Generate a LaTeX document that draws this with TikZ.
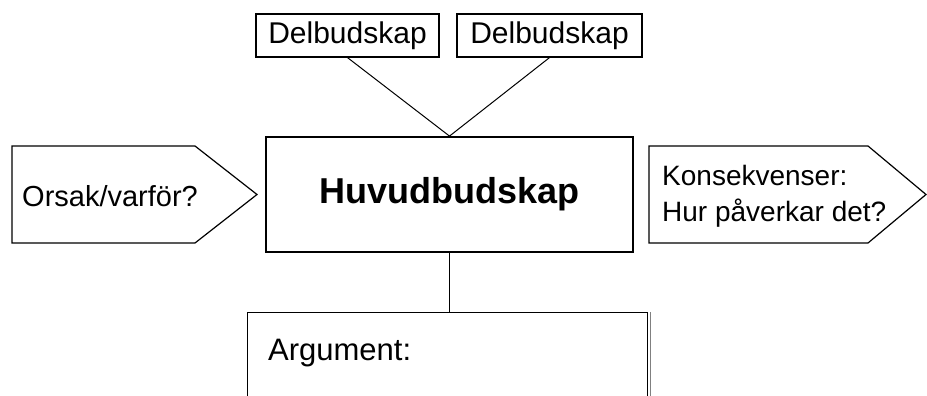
\documentclass[tikz,border=0pt]{standalone}
\usepackage{fontspec}
\setmainfont{Liberation Sans}
\tikzset{
  box/.style={draw, line width=1.2pt, inner sep=0pt},
  txt/.style={font=\fontsize{29}{36}\selectfont, inner sep=0pt},
}

\begin{document}
\begin{tikzpicture}[x=1pt, y=-1pt]
      \useasboundingbox (0, 0) rectangle (927, 396);
      \node[box, txt, font=\fontsize{30}{36}\selectfont, minimum width=183, minimum height=43] (del1) at (347.5, 35.5) {Delbudskap};
      \node[box, txt, font=\fontsize{30}{36}\selectfont, minimum width=185, minimum height=43] (del2) at (549.5, 35.5) {Delbudskap};
      \node[box, line width=1.8pt, minimum width=367, minimum height=115,
        font=\bfseries\fontsize{36}{40}\selectfont] (main) at (449.5, 194.5) {Huvudbudskap};
      \node[box, minimum width=400, minimum height=100, anchor=north west] (arg) at (247, 312) {};
      \node[txt, font=\fontsize{31}{36}\selectfont, anchor=base west] (argtxt) at (268, 360) {Argument:};
      \draw[box] (12, 146) -- (195, 146) -- (257, 194.5) -- (195, 243) -- (12, 243) -- cycle;
      \node[txt, anchor=base west] (orsak) at (22, 206) {Orsak/varför?};
      \draw[box] (649, 146) -- (868, 146) -- (926, 194.5) -- (868, 243) -- (649, 243) -- cycle;
      \node[txt, font=\fontsize{28}{36}\selectfont, anchor=west, align=left] (kons) at (662, 196) {Konsekvenser:\\Hur påverkar det?};
      \draw[line width=1pt] (del1.south) to (main.north);
      \draw[line width=1pt] (del2.south) to (main.north);
      \draw[line width=1pt] (main.south) to (main.south |- arg.north);
      \draw[gray, line width=0.8pt] ([xshift=2.5]arg.north east) to ([xshift=2.5]arg.south east);
\end{tikzpicture}
\end{document}
